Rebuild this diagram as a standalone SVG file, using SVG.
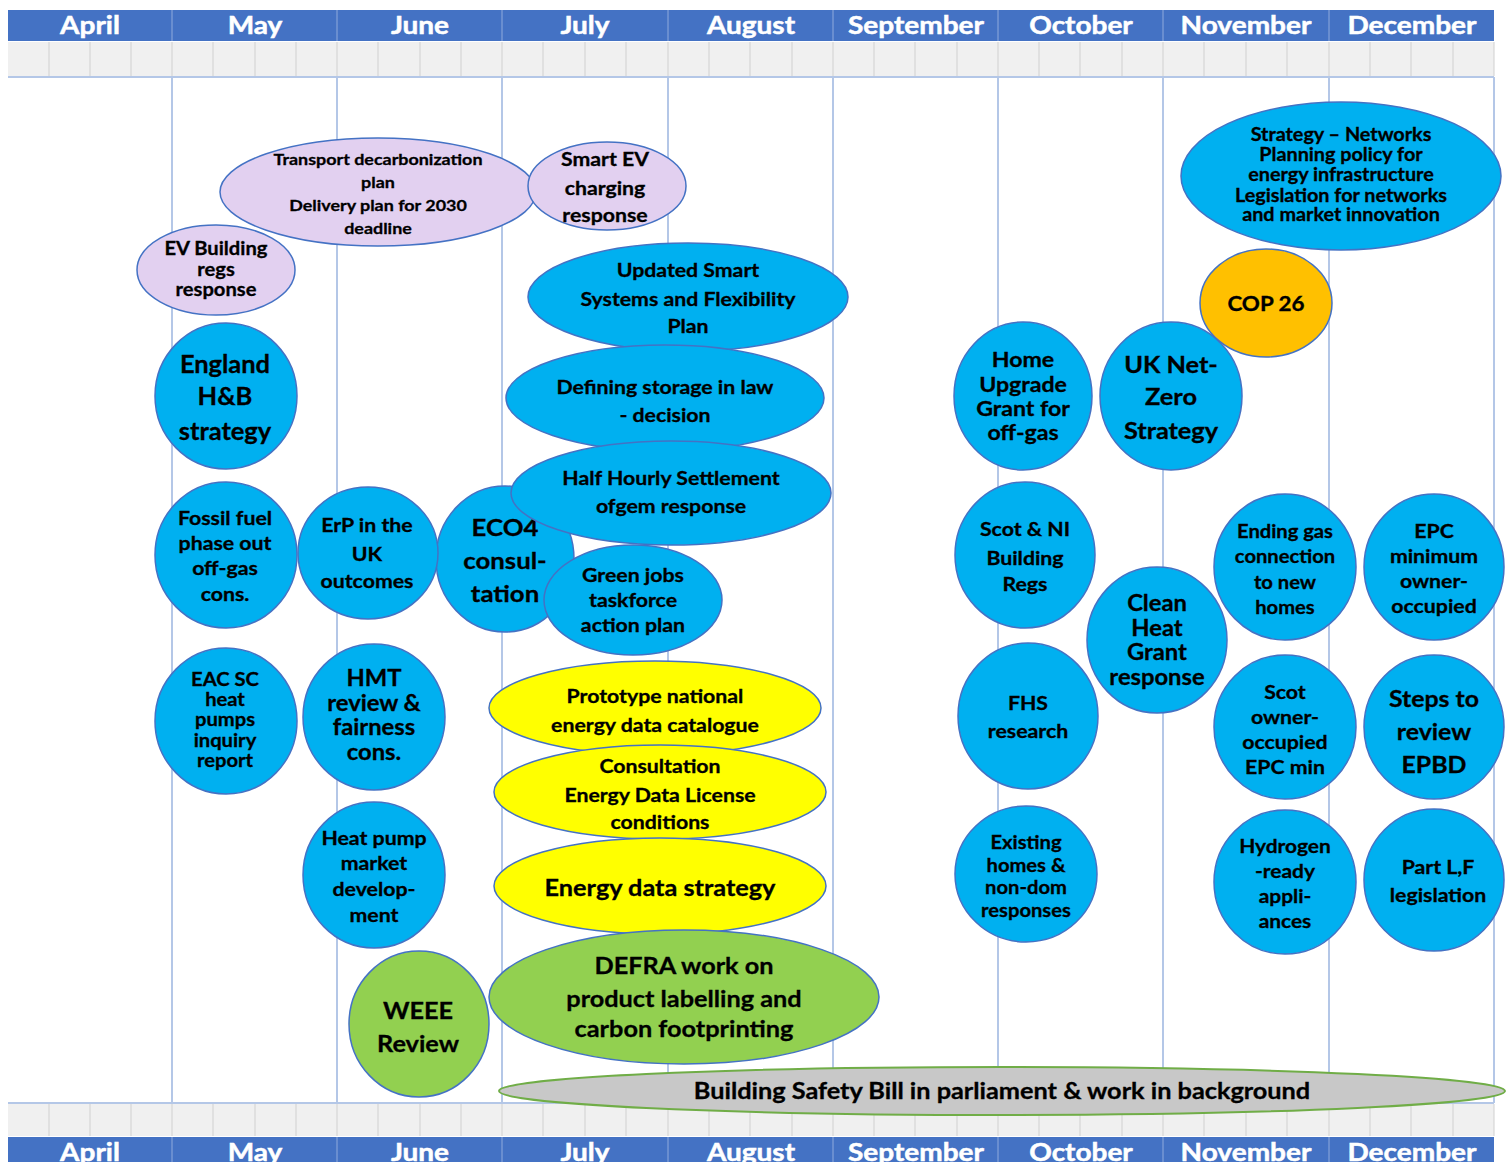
<svg xmlns="http://www.w3.org/2000/svg" width="1512" height="1162" viewBox="0 0 1512 1162">
<style>
.mon{font-family:Lato,"Open Sans","Liberation Sans",sans-serif;font-weight:bold;font-size:25px;fill:#ffffff;stroke:#ffffff;stroke-width:0.5;text-anchor:middle}
.t{font-family:Lato,"Open Sans","Liberation Sans",sans-serif;font-weight:bold;fill:#000000;stroke:#000000;stroke-width:0.3;text-anchor:middle;dominant-baseline:central}
.blue{fill:#00b0f0;stroke:#4472c4;stroke-width:1.5}
.lav{fill:#e2d0f0;stroke:#4472c4;stroke-width:1.5}
.yel{fill:#ffff00;stroke:#4472c4;stroke-width:1.5}
.grn{fill:#92d050;stroke:#4472c4;stroke-width:1.5}
.org{fill:#ffc000;stroke:#4472c4;stroke-width:1.5}
.gry{fill:#c8c8c8;stroke:#70ad47;stroke-width:2}
.vl{stroke:#b4c7e7;stroke-width:2}
.cell{stroke:#d0d0d0;stroke-width:1}
.sep{stroke:#8faadc;stroke-width:1}
</style>
<rect width="1512" height="1162" fill="#ffffff"/>
<g id="grid">
  <rect x="8" y="10" width="1486" height="31" fill="#4472c4"/>
  <rect x="8" y="42" width="1486" height="34" fill="#f0f0f0"/>
  <rect x="8" y="1104" width="1486" height="32" fill="#f0f0f0"/>
  <rect x="8" y="1137" width="1486" height="30" fill="#4472c4"/>
  <line x1="8" y1="77" x2="1494" y2="77" class="vl"/>
  <line x1="8" y1="1103" x2="1494" y2="1103" class="vl"/>
  <g class="cell">
    <path d="M49 42V76M90 42V76M131 42V76M172 42V76M213 42V76M255 42V76M296 42V76M337 42V76M378 42V76M420 42V76M461 42V76M502 42V76M543 42V76M585 42V76M626 42V76M668 42V76M709 42V76M750 42V76M792 42V76M833 42V76M874 42V76M915 42V76M957 42V76M998 42V76M1039 42V76M1080 42V76M1122 42V76M1163 42V76M1204 42V76M1246 42V76M1287 42V76M1329 42V76M1370 42V76M1411 42V76M1453 42V76M1494 42V76"/>
    <path d="M49 1104V1136M90 1104V1136M131 1104V1136M172 1104V1136M213 1104V1136M255 1104V1136M296 1104V1136M337 1104V1136M378 1104V1136M420 1104V1136M461 1104V1136M502 1104V1136M543 1104V1136M585 1104V1136M626 1104V1136M668 1104V1136M709 1104V1136M750 1104V1136M792 1104V1136M833 1104V1136M874 1104V1136M915 1104V1136M957 1104V1136M998 1104V1136M1039 1104V1136M1080 1104V1136M1122 1104V1136M1163 1104V1136M1204 1104V1136M1246 1104V1136M1287 1104V1136M1329 1104V1136M1370 1104V1136M1411 1104V1136M1453 1104V1136M1494 1104V1136"/>
  </g>
  <g class="sep">
    <path d="M172 10V41M337 10V41M502 10V41M668 10V41M833 10V41M998 10V41M1163 10V41M1329 10V41"/>
    <path d="M172 1137V1162M337 1137V1162M502 1137V1162M668 1137V1162M833 1137V1162M998 1137V1162M1163 1137V1162M1329 1137V1162"/>
  </g>
  <g class="vl">
    <path d="M172 77V1103M337 77V1103M502 77V1103M668 77V1103M833 77V1103M998 77V1103M1163 77V1103M1329 77V1103M1494 77V1103"/>
  </g>
  <g class="mon">
    <text x="90" y="34" transform="matrix(1.12 0 0 1 -10.8 0)">April</text><text x="255" y="34" transform="matrix(1.12 0 0 1 -30.6 0)">May</text><text x="420" y="34" transform="matrix(1.12 0 0 1 -50.4 0)">June</text><text x="585" y="34" transform="matrix(1.12 0 0 1 -70.2 0)">July</text><text x="751" y="34" transform="matrix(1.12 0 0 1 -90.12 0)">August</text><text x="916" y="34" transform="matrix(1.12 0 0 1 -109.92 0)">September</text><text x="1081" y="34" transform="matrix(1.12 0 0 1 -129.72 0)">October</text><text x="1246" y="34" transform="matrix(1.12 0 0 1 -149.52 0)">November</text><text x="1412" y="34" transform="matrix(1.12 0 0 1 -169.44 0)">December</text>
    <text x="90" y="1161" transform="matrix(1.12 0 0 1 -10.8 0)">April</text><text x="255" y="1161" transform="matrix(1.12 0 0 1 -30.6 0)">May</text><text x="420" y="1161" transform="matrix(1.12 0 0 1 -50.4 0)">June</text><text x="585" y="1161" transform="matrix(1.12 0 0 1 -70.2 0)">July</text><text x="751" y="1161" transform="matrix(1.12 0 0 1 -90.12 0)">August</text><text x="916" y="1161" transform="matrix(1.12 0 0 1 -109.92 0)">September</text><text x="1081" y="1161" transform="matrix(1.12 0 0 1 -129.72 0)">October</text><text x="1246" y="1161" transform="matrix(1.12 0 0 1 -149.52 0)">November</text><text x="1412" y="1161" transform="matrix(1.12 0 0 1 -169.44 0)">December</text>
  </g>
</g>
<g id="connectors"></g>
<g id="transport"><ellipse cx="378" cy="192" rx="158" ry="54" class="lav"/><text class="t" font-size="16" transform="matrix(1.12 0 0 1 -45.36 0)"><tspan x="378" y="158">Transport decarbonization</tspan><tspan x="378" y="181">plan</tspan><tspan x="378" y="204">Delivery plan for 2030</tspan><tspan x="378" y="227">deadline</tspan></text></g>
<g id="smart-ev"><ellipse cx="607" cy="186" rx="79" ry="44" class="lav"/><text class="t" font-size="19" transform="matrix(1.12 0 0 1 -72.6 0)"><tspan x="605" y="158">Smart EV</tspan><tspan x="605" y="187">charging</tspan><tspan x="605" y="214">response</tspan></text></g>
<g id="ev-building"><ellipse cx="216" cy="270" rx="79" ry="45" class="lav"/><text class="t" font-size="18" transform="matrix(1.12 0 0 1 -25.92 0)"><tspan x="216" y="247">EV Building</tspan><tspan x="216" y="268">regs</tspan><tspan x="216" y="288">response</tspan></text></g>
<g id="strategy-networks"><ellipse cx="1341" cy="176" rx="160" ry="74" class="blue"/><text class="t" font-size="18" transform="matrix(1.1 0 0 1 -134.1 0)"><tspan x="1341" y="133">Strategy – Networks</tspan><tspan x="1341" y="153">Planning policy for</tspan><tspan x="1341" y="173">energy infrastructure</tspan><tspan x="1341" y="194">Legislation for networks</tspan><tspan x="1341" y="213">and market innovation</tspan></text></g>
<g id="cop26"><ellipse cx="1266" cy="303" rx="66" ry="54" class="org"/><text class="t" font-size="20" x="1266" y="303" transform="matrix(1.12 0 0 1 -151.92 0)">COP 26</text></g>
<g id="updated-smart"><ellipse cx="688" cy="297" rx="160" ry="54" class="blue"/><text class="t" font-size="19" transform="matrix(1.12 0 0 1 -82.56 0)"><tspan x="688" y="269">Updated Smart</tspan><tspan x="688" y="298">Systems and Flexibility</tspan><tspan x="688" y="325">Plan</tspan></text></g>
<g id="defining-storage"><ellipse cx="665" cy="398" rx="159" ry="53" class="blue"/><text class="t" font-size="19" transform="matrix(1.12 0 0 1 -79.8 0)"><tspan x="665" y="386">Defining storage in law</tspan><tspan x="665" y="414">- decision</tspan></text></g>
<g id="eco4"><ellipse cx="505" cy="559" rx="69" ry="73" class="blue"/><text class="t" font-size="23" transform="matrix(1.12 0 0 1 -60.6 0)"><tspan x="505" y="527">ECO4</tspan><tspan x="505" y="560">consul-</tspan><tspan x="505" y="593">tation</tspan></text></g>
<g id="half-hourly"><ellipse cx="671" cy="493" rx="160" ry="52" class="blue"/><text class="t" font-size="19" transform="matrix(1.12 0 0 1 -80.52 0)"><tspan x="671" y="477">Half Hourly Settlement</tspan><tspan x="671" y="505">ofgem response</tspan></text></g>
<g id="green-jobs"><ellipse cx="633" cy="600" rx="89" ry="55" class="blue"/><text class="t" font-size="19" transform="matrix(1.12 0 0 1 -75.96 0)"><tspan x="633" y="574">Green jobs</tspan><tspan x="633" y="599">taskforce</tspan><tspan x="633" y="624">action plan</tspan></text></g>
<g id="england-hb"><ellipse cx="226" cy="396" rx="71" ry="73" class="blue"/><text class="t" font-size="24" transform="matrix(1.06 0 0 1 -13.5 0)"><tspan x="225" y="363">England</tspan><tspan x="225" y="395">H&amp;B</tspan><tspan x="225" y="430">strategy</tspan></text></g>
<g id="fossil-fuel"><ellipse cx="226" cy="555" rx="71" ry="73" class="blue"/><text class="t" font-size="19" transform="matrix(1.12 0 0 1 -27 0)"><tspan x="225" y="517">Fossil fuel</tspan><tspan x="225" y="542">phase out</tspan><tspan x="225" y="567">off-gas</tspan><tspan x="225" y="593">cons.</tspan></text></g>
<g id="erp"><ellipse cx="368" cy="553" rx="70" ry="66" class="blue"/><text class="t" font-size="19" transform="matrix(1.12 0 0 1 -44.04 0)"><tspan x="367" y="524">ErP in the</tspan><tspan x="367" y="553">UK</tspan><tspan x="367" y="580">outcomes</tspan></text></g>
<g id="eac-sc"><ellipse cx="226" cy="721" rx="71" ry="73" class="blue"/><text class="t" font-size="18" transform="matrix(1.12 0 0 1 -27 0)"><tspan x="225" y="678">EAC SC</tspan><tspan x="225" y="698">heat</tspan><tspan x="225" y="718">pumps</tspan><tspan x="225" y="739">inquiry</tspan><tspan x="225" y="759">report</tspan></text></g>
<g id="hmt-review"><ellipse cx="374" cy="717" rx="71" ry="73" class="blue"/><text class="t" font-size="22" transform="matrix(1.08 0 0 1 -29.92 0)"><tspan x="374" y="677">HMT</tspan><tspan x="374" y="702">review &amp;</tspan><tspan x="374" y="726">fairness</tspan><tspan x="374" y="751">cons.</tspan></text></g>
<g id="heat-pump-market"><ellipse cx="374" cy="875" rx="71" ry="73" class="blue"/><text class="t" font-size="19" transform="matrix(1.12 0 0 1 -44.88 0)"><tspan x="374" y="837">Heat pump</tspan><tspan x="374" y="862">market</tspan><tspan x="374" y="888">develop-</tspan><tspan x="374" y="914">ment</tspan></text></g>
<g id="weee"><ellipse cx="419" cy="1024" rx="70" ry="73" class="grn"/><text class="t" font-size="23" transform="matrix(1.1 0 0 1 -41.8 0)"><tspan x="418" y="1010">WEEE</tspan><tspan x="418" y="1042">Review</tspan></text></g>
<g id="prototype"><ellipse cx="655" cy="708" rx="166" ry="47" class="yel"/><text class="t" font-size="19" transform="matrix(1.12 0 0 1 -78.6 0)"><tspan x="655" y="695">Prototype national</tspan><tspan x="655" y="724">energy data catalogue</tspan></text></g>
<g id="consultation-edl"><ellipse cx="660" cy="792" rx="166" ry="47" class="yel"/><text class="t" font-size="19" transform="matrix(1.12 0 0 1 -79.2 0)"><tspan x="660" y="765">Consultation</tspan><tspan x="660" y="794">Energy Data License</tspan><tspan x="660" y="821">conditions</tspan></text></g>
<g id="energy-data-strategy"><ellipse cx="660" cy="886" rx="166" ry="48" class="yel"/><text class="t" font-size="23" x="660" y="887" transform="matrix(1.1 0 0 1 -66 0)">Energy data strategy</text></g>
<g id="defra"><ellipse cx="684" cy="997" rx="195" ry="67" class="grn"/><text class="t" font-size="23" transform="matrix(1.1 0 0 1 -68.4 0)"><tspan x="684" y="964">DEFRA work on</tspan><tspan x="684" y="997">product labelling and</tspan><tspan x="684" y="1027">carbon footprinting</tspan></text></g>
<g id="building-safety"><ellipse cx="1002" cy="1091" rx="503" ry="24" class="gry"/><text class="t" font-size="22" x="1002" y="1091" transform="matrix(1.15 0 0 1 -150.3 0)">Building Safety Bill in parliament &amp; work in background</text></g>
<g id="home-upgrade"><ellipse cx="1023" cy="396" rx="69" ry="74" class="blue"/><text class="t" font-size="21" transform="matrix(1.1 0 0 1 -102.3 0)"><tspan x="1023" y="358">Home</tspan><tspan x="1023" y="383">Upgrade</tspan><tspan x="1023" y="407">Grant for</tspan><tspan x="1023" y="431">off-gas</tspan></text></g>
<g id="uk-net-zero"><ellipse cx="1171" cy="396" rx="71" ry="74" class="blue"/><text class="t" font-size="23" transform="matrix(1.1 0 0 1 -117.1 0)"><tspan x="1171" y="363">UK Net-</tspan><tspan x="1171" y="395">Zero</tspan><tspan x="1171" y="429">Strategy</tspan></text></g>
<g id="scot-ni"><ellipse cx="1025" cy="555" rx="70" ry="73" class="blue"/><text class="t" font-size="19" transform="matrix(1.12 0 0 1 -123 0)"><tspan x="1025" y="528">Scot &amp; NI</tspan><tspan x="1025" y="557">Building</tspan><tspan x="1025" y="583">Regs</tspan></text></g>
<g id="clean-heat"><ellipse cx="1157" cy="640" rx="70" ry="73" class="blue"/><text class="t" font-size="22" transform="matrix(1.08 0 0 1 -92.56 0)"><tspan x="1157" y="602">Clean</tspan><tspan x="1157" y="627">Heat</tspan><tspan x="1157" y="651">Grant</tspan><tspan x="1157" y="676">response</tspan></text></g>
<g id="fhs"><ellipse cx="1028" cy="716" rx="70" ry="73" class="blue"/><text class="t" font-size="19" transform="matrix(1.12 0 0 1 -123.36 0)"><tspan x="1028" y="702">FHS</tspan><tspan x="1028" y="730">research</tspan></text></g>
<g id="existing-homes"><ellipse cx="1026" cy="874" rx="71" ry="68" class="blue"/><text class="t" font-size="18" transform="matrix(1.12 0 0 1 -123.12 0)"><tspan x="1026" y="841">Existing</tspan><tspan x="1026" y="864">homes &amp;</tspan><tspan x="1026" y="886">non-dom</tspan><tspan x="1026" y="909">responses</tspan></text></g>
<g id="ending-gas"><ellipse cx="1285" cy="567" rx="71" ry="73" class="blue"/><text class="t" font-size="18" transform="matrix(1.12 0 0 1 -154.2 0)"><tspan x="1285" y="530">Ending gas</tspan><tspan x="1285" y="555">connection</tspan><tspan x="1285" y="581">to new</tspan><tspan x="1285" y="606">homes</tspan></text></g>
<g id="epc-minimum"><ellipse cx="1434" cy="567" rx="70" ry="73" class="blue"/><text class="t" font-size="19" transform="matrix(1.12 0 0 1 -172.08 0)"><tspan x="1434" y="530">EPC</tspan><tspan x="1434" y="555">minimum</tspan><tspan x="1434" y="580">owner-</tspan><tspan x="1434" y="605">occupied</tspan></text></g>
<g id="scot-owner"><ellipse cx="1285" cy="727" rx="71" ry="72" class="blue"/><text class="t" font-size="19" transform="matrix(1.12 0 0 1 -154.2 0)"><tspan x="1285" y="691">Scot</tspan><tspan x="1285" y="716">owner-</tspan><tspan x="1285" y="741">occupied</tspan><tspan x="1285" y="766">EPC min</tspan></text></g>
<g id="steps-epbd"><ellipse cx="1434" cy="727" rx="70" ry="72" class="blue"/><text class="t" font-size="23" transform="matrix(1.08 0 0 1 -114.72 0)"><tspan x="1434" y="697">Steps to</tspan><tspan x="1434" y="730">review</tspan><tspan x="1434" y="763">EPBD</tspan></text></g>
<g id="hydrogen"><ellipse cx="1285" cy="882" rx="71" ry="72" class="blue"/><text class="t" font-size="19" transform="matrix(1.1 0 0 1 -128.5 0)"><tspan x="1285" y="845">Hydrogen</tspan><tspan x="1285" y="870">-ready</tspan><tspan x="1285" y="895">appli-</tspan><tspan x="1285" y="920">ances</tspan></text></g>
<g id="part-lf"><ellipse cx="1434" cy="880" rx="70" ry="71" class="blue"/><text class="t" font-size="19" transform="matrix(1.12 0 0 1 -172.56 0)"><tspan x="1438" y="866">Part L,F</tspan><tspan x="1438" y="894">legislation</tspan></text></g>
</svg>
